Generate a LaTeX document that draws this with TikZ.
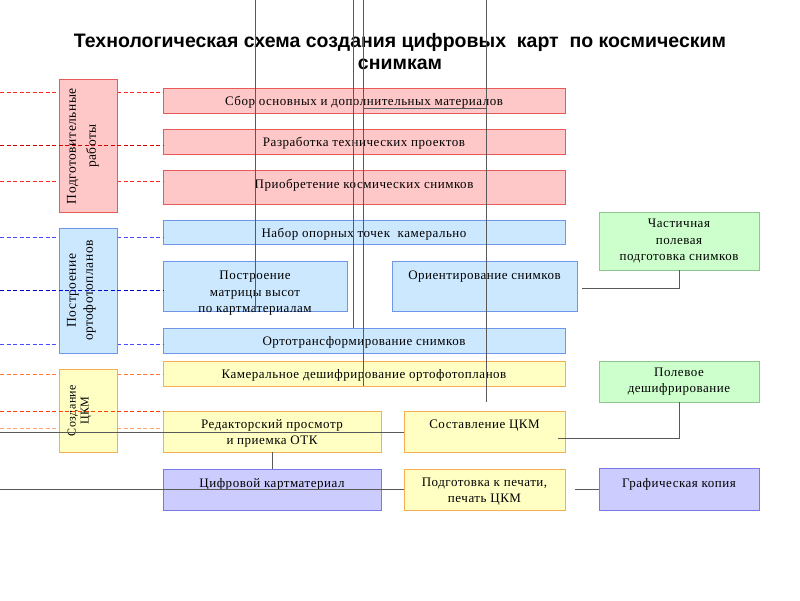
\documentclass[tikz,border=0pt]{standalone}
\usepackage{fontspec}
\setmainfont{Liberation Serif}[LetterSpace=4]
\newfontfamily\headfont{Liberation Sans}

\definecolor{redfill}{RGB}{255,200,200}
\definecolor{redline}{RGB}{232,90,90}
\definecolor{bluefill}{RGB}{204,232,255}
\definecolor{blueline}{RGB}{110,150,235}
\definecolor{yelfill}{RGB}{255,255,196}
\definecolor{yelline}{RGB}{245,175,80}
\definecolor{grnfill}{RGB}{204,255,204}
\definecolor{grnline}{RGB}{140,200,140}
\definecolor{purfill}{RGB}{204,204,255}
\definecolor{purline}{RGB}{120,120,235}

\tikzset{
  drop/.style={execute at begin node={\rule{0pt}{#1}}},
  boxtext/.style={inner sep=0pt, align=center, font=\fontsize{13}{16.5}\selectfont},
  box/.style={boxtext, draw, line width=0.8pt, drop=13pt},
  redbox/.style={box, fill=redfill, draw=redline},
  bluebox/.style={box, fill=bluefill, draw=blueline},
  yelbox/.style={box, fill=yelfill, draw=yelline},
  grnbox/.style={box, fill=grnfill, draw=grnline},
  purbox/.style={box, fill=purfill, draw=purline},
  lift/.style={text height=13pt, text depth=#1},
  sidetext/.style={rotate=90, align=center, inner sep=0pt},
  wire/.style={line width=0.8pt, black!65},
  dashline/.style={line width=0.8pt, dash pattern=on 4pt off 2.5pt},
}

\begin{document}
\begin{tikzpicture}[x=1pt, y=-1pt]
  \useasboundingbox (0,0) rectangle (800,600);

  % title
  \node[align=center, font=\headfont\bfseries\fontsize{19.5}{22}\selectfont] (title) at (400,52)
    {Технологическая схема создания цифровых~ карт~ по космическим\\снимкам};

  % main column
  \node[redbox, minimum width=402, minimum height=25] (sbor) at (364,100.5) {Сбор основных и дополнительных материалов};
  \node[redbox, minimum width=402, minimum height=25] (razr) at (364,141.5) {Разработка технических проектов};
  \node[redbox, minimum width=402, minimum height=34, lift=10pt] (priob) at (364,187) {Приобретение космических снимков};

  \node[bluebox, minimum width=402, minimum height=24] (nabor) at (364,232) {Набор опорных точек~ камерально};
  \node[bluebox, minimum width=184, minimum height=50] (postr) at (255,286) {};
  \node[boxtext] (postrT) at (255,293.5) {Построение\\матрицы высот\\по картматериалам};
  \node[bluebox, minimum width=185, minimum height=50, lift=26pt] (orient) at (484.5,286) {Ориентирование снимков};
  \node[bluebox, minimum width=402, minimum height=25] (orto) at (364,340.5) {Ортотрансформирование снимков};

  \node[yelbox, minimum width=402, minimum height=25] (kamer) at (364,373.5) {Камеральное дешифрирование ортофотопланов};
  \node[yelbox, minimum width=218, minimum height=41] (redak) at (272,431.5) {};
  \node[boxtext] (redakT) at (272,433.5) {Редакторский просмотр\\и приемка ОТК};
  \node[yelbox, minimum width=161, minimum height=41, lift=19pt] (sost) at (484.5,431.5) {Составление ЦКМ};
  \node[purbox, minimum width=218, minimum height=41, lift=17pt] (cifr) at (272,489.5) {Цифровой картматериал};
  \node[yelbox, minimum width=161, minimum height=41] (podg) at (484.5,489.5) {};
  \node[boxtext] (podgT) at (484.5,491.5) {Подготовка к печати,\\печать ЦКМ};

  % right column
  \node[grnbox, minimum width=160, minimum height=58] (chast) at (679,241) {Частичная\\полевая\\подготовка снимков};
  \node[grnbox, minimum width=160, minimum height=41] (polev) at (679,381.5) {Полевое\\дешифрирование};
  \node[purbox, minimum width=160, minimum height=42, lift=16pt] (graf) at (679,489) {Графическая копия};

  % dashed guides
  \coordinate (d1) at (0,92);  \coordinate (d2) at (0,145); \coordinate (d3) at (0,181);
  \coordinate (d4) at (0,237); \coordinate (d5) at (0,290); \coordinate (d6) at (0,344);
  \coordinate (d7) at (0,374); \coordinate (d8) at (0,411); \coordinate (d9) at (0,428);
  \draw[dashline, red!85] (d1) -- (d1 -| sbor.west);
  \draw[dashline, red!85] (d3) -- (d3 -| priob.west);
  \draw[dashline, blue!70] (d4) -- (d4 -| nabor.west);
  \draw[dashline, blue!70] (d6) -- (d6 -| orto.west);
  \draw[dashline, orange!70!red!80] (d7) -- (d7 -| kamer.west);
  \draw[dashline, orange!70!red!55] (d9) -- (d9 -| redak.west);

  % stage labels
  \node[redbox, minimum width=58, minimum height=133] (prep) at (88,145.5) {};
  \node[bluebox, minimum width=58, minimum height=125] (ortho) at (88,290.5) {};
  \node[yelbox, minimum width=58, minimum height=83] (ckm) at (88,410.5) {};
  \node[sidetext, font=\fontsize{13.5}{20}\selectfont] (prepT) at (83,146) {Подготовительные\\работы};
  \node[sidetext, font=\fontsize{13.5}{17}\selectfont] (orthoT) at (81.5,290.5) {Построение\\ортофотопланов};
  \node[sidetext, font=\fontsize{12}{13}\selectfont] (ckmT) at (79.5,410.5) {Создание\\ЦКМ};

  \draw[dashline, red!80!black] (d2) -- (d2 -| razr.west);
  \draw[dashline, blue!80!black] (d5) -- (d5 -| postr.west);
  \draw[dashline, orange!50!red] (d8) -- (d8 -| redak.west);

  % connectors
  \coordinate (t1) at (255,0); \coordinate (t2) at (353,0);
  \coordinate (t3) at (363,0); \coordinate (t4) at (486,0);
  \draw[wire] (t1) -- (t1 |- postr.south);
  \draw[wire] (t2) -- (t2 |- orto.north);
  \draw[wire] (t3) -- (t3 |- kamer.south);
  \draw[wire] (t4) -- (t4 |- polev.south);
  \draw[wire] (t3 |- 0,108) -- (t4 |- 0,108);

  \coordinate (e1) at (0,432); \coordinate (e2) at (0,489);
  \draw[wire] (e1) -- (e1 -| sost.west);
  \draw[wire] (e2) -- (e2 -| podg.west);
  \draw[wire] (redak.south) -- (cifr.north);
  \draw[wire] (582,288) -| (chast.south);
  \draw[wire] (558,438) -| (polev.south);
  \draw[wire] (575,489) -- (575,489 -| graf.west);
\end{tikzpicture}
\end{document}
